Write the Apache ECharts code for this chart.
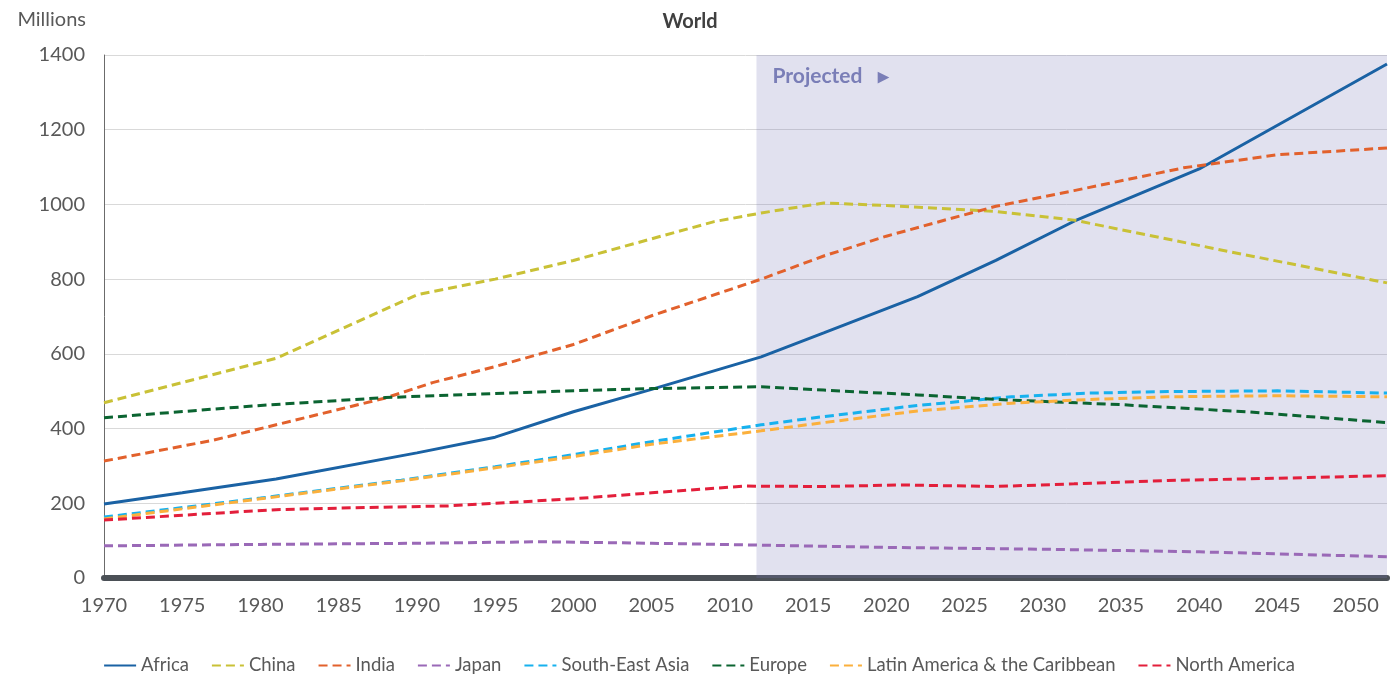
<!DOCTYPE html>
<html>
  <head>
    <meta charset="utf-8" />
    <title>World</title>
    <script src="https://cdn.jsdelivr.net/npm/echarts@6/dist/echarts.min.js"></script>
  </head>
  <body style="margin: 0">
    <div id="main" style="width: 1398px; height: 675px"></div>
    <script type="text/javascript">
      // values, [year, millions]
      var africa = [[1970,198],[1975,228],[1981,265],[1990,335],[1995,377],[2000,445],[2005,505],[2012,592],[2016,656],[2022,753],[2027,850],[2032,955],[2040,1095],[2052,1376]];
      var china = [[1970,469],[1981,588],[1990,758],[1995,800],[2000,850],[2005,908],[2009,954],[2012,977],[2016,1004],[2020,997],[2027,981],[2032,958],[2042,873],[2052,790]];
      var india = [[1970,313],[1977,369],[1988,482],[1991,523],[1995,566],[2000,625],[2005,702],[2012,800],[2016,862],[2020,915],[2024,961],[2027,995],[2032,1037],[2039,1098],[2045,1133],[2052,1151]];
      var japan = [[1970,86],[1980,90],[1990,93],[1998,97],[2005,93],[2012,88],[2020,82],[2030,77],[2040,70],[2052,57]];
      var seAsia = [[1970,163],[1980,214],[1989,262],[1995,298],[2000,330],[2005,365],[2012,410],[2016,432],[2022,462],[2028,485],[2033,495],[2038,499],[2045,501],[2052,495]];
      var europe = [[1970,429],[1980,462],[1988,483],[1999,500],[2005,507],[2012,512],[2016,503],[2022,490],[2027,478],[2035,464],[2043,445],[2052,416]];
      var latAm = [[1970,158],[1980,212],[1989,260],[1995,295],[2000,325],[2005,358],[2012,394],[2016,416],[2022,447],[2028,468],[2033,478],[2038,485],[2045,488],[2052,485]];
      var northAm = [[1970,155],[1975,168],[1981,183],[1986,188],[1992,193],[1995,200],[2000,212],[2005,228],[2011,246],[2016,245],[2021,249],[2027,245],[2032,252],[2038,261],[2045,267],[2052,274]];

      var names = ["Africa", "China", "India", "Japan", "South-East Asia", "Europe", "Latin America & the Caribbean", "North America"];
      var datasets = [africa, china, india, japan, seAsia, europe, latAm, northAm];
      var colors = ["#1a62a4", "#c9c136", "#e2612c", "#9a69b7", "#17b1ee", "#0b6431", "#fbb03c", "#e31f3b"];
      var projectedFrom = 2011.7;

      var font = "Lato";
      var myChart = echarts.init(document.getElementById("main"), null, { renderer: "canvas" });

      var series = names.map(function (name, i) {
        return {
          name: name,
          type: "line",
          data: datasets[i],
          symbol: "none",
          lineStyle: { color: colors[i], width: 3, type: i === 0 ? "solid" : [9, 5] },
          itemStyle: { color: colors[i] },
          z: 3
        };
      });
      // shaded projection zone
      series[0].markArea = {
        silent: true,
        itemStyle: { color: "rgba(120,120,180,0.22)" },
        label: {
          show: true,
          position: [16, 11],
          formatter: "Projected   \u25B8",
          color: "#7a7eb7",
          fontFamily: font,
          fontWeight: "bold",
          fontSize: 21
        },
        data: [[{ xAxis: projectedFrom, yAxis: 1400 }, { xAxis: 2052, yAxis: 0 }]]
      };

      var option = {
        animation: false,
        title: {
          text: "World",
          left: 685,
          textAlign: "center",
          top: 7,
          textStyle: { fontFamily: font, fontSize: 20, fontWeight: "bold", color: "#404040" }
        },
        legend: {
          top: 651,
          left: "center",
          itemWidth: 32,
          itemHeight: 14,
          itemGap: 22,
          itemStyle: { opacity: 0 },
          textStyle: { fontFamily: font, fontSize: 18.5, color: "#595959" },
          data: names
        },
        grid: { left: 104, right: 11, top: 55, bottom: 97, containLabel: false },
        xAxis: {
          type: "value",
          min: 1970,
          max: 2052,
          interval: 5,
          axisLine: { show: true, lineStyle: { color: "#4b5056", width: 6 } },
          axisTick: { show: false },
          splitLine: { show: false },
          axisLabel: {
            showMaxLabel: false,
            margin: 18,
            fontFamily: font,
            fontSize: 20,
            color: "#595959",
            formatter: function (v) { return String(v); }
          }
        },
        yAxis: {
          type: "value",
          min: 0,
          max: 1400,
          interval: 200,
          name: "Millions",
          nameLocation: "end",
          nameGap: 25,
          nameTextStyle: { fontFamily: font, fontSize: 20, color: "#595959", align: "right", padding: [0, 18, 0, 0] },
          axisLine: { show: true, lineStyle: { color: "#6b6b6b", width: 1 } },
          axisTick: { show: false },
          splitLine: { lineStyle: { color: "#d9d9d9", width: 1 } },
          axisLabel: {
            margin: 19,
            fontFamily: font,
            fontSize: 20,
            color: "#595959",
            formatter: function (v) { return String(v); }
          }
        },
        series: series
      };
      myChart.setOption(option);
    </script>
  </body>
</html>
